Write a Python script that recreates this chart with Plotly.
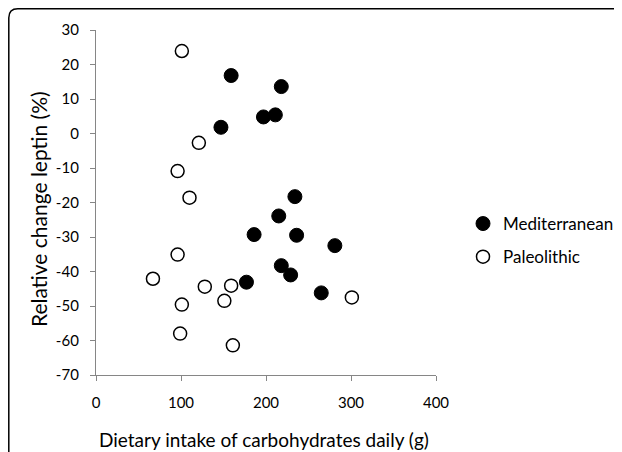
import plotly.graph_objects as go

# Mediterranean diet group (filled markers)
med_carbs = [159, 218, 197, 211, 147, 234, 215, 186, 236, 218, 229, 177, 281, 265]
med_leptin = [16.8, 13.6, 4.8, 5.4, 1.8, -18.3, -23.9, -29.3, -29.5, -38.3, -41.0, -43.1, -32.5, -46.2]

# Paleolithic diet group (open markers)
pal_carbs = [101, 121, 96, 110, 96, 67, 128, 159, 151, 101, 99, 161, 301]
pal_leptin = [23.9, -2.7, -10.9, -18.6, -35.1, -42.1, -44.4, -44.1, -48.5, -49.6, -58.0, -61.4, -47.5]

x_ticks = [0, 100, 200, 300, 400]
y_ticks = [30, 20, 10, 0, -10, -20, -30, -40, -50, -60, -70]

x_title = "Dietary intake of carbohydrates daily (g)"
y_title = "Relative change leptin (%)"

FONT = "Lato"

# page has an 8px body margin; work in page pixels and convert
OFF = 8
W, H = 622 - OFF, 452 - OFF
L, T = 96 - OFF, 30 - OFF
pw, ph = 340, 345
R = W - L - pw
B = H - T - ph

def px(X):
    return (X - OFF - L) / pw

def py(Y):
    return (T + ph - (Y - OFF)) / ph

fig = go.Figure()
fig.add_trace(go.Scatter(
    x=med_carbs, y=med_leptin, mode="markers", name="Mediterranean",
    legendgroup="a",
    marker=dict(size=14, color="black", line=dict(color="black", width=1)),
    cliponaxis=False,
))
fig.add_trace(go.Scatter(
    x=pal_carbs, y=pal_leptin, mode="markers", name="Paleolithic",
    legendgroup="b",
    marker=dict(size=13, color="white", line=dict(color="black", width=1.5)),
    cliponaxis=False,
))

e = OFF + 0.8
frame = (f"M {px(e)},{py(470)} L {px(e)},{py(e + 9)} "
         f"Q {px(e)},{py(e)} {px(e + 9)},{py(e)} L {px(640)},{py(e)}")
fig.add_shape(type="path", path=frame, xref="paper", yref="paper",
              line=dict(color="black", width=1.5))

fig.add_annotation(text=x_title, xref="paper", yref="paper",
                   x=px(264), y=py(439), xanchor="center", yanchor="middle",
                   showarrow=False, font=dict(family=FONT, size=19, color="black"))
fig.add_annotation(text=y_title, xref="paper", yref="paper", textangle=-90,
                   x=px(38), y=py(209), xanchor="center", yanchor="middle",
                   showarrow=False, font=dict(family=FONT, size=21, color="black"))

fig.update_layout(
    width=W, height=H,
    margin=dict(l=L, r=R, t=T, b=B, pad=0),
    paper_bgcolor="white", plot_bgcolor="white",
    font=dict(family=FONT, color="black"),
    showlegend=True,
    legend=dict(xref="container", yref="container",
                x=(483 - OFF - 20) / W, y=1 - (222 - OFF - 16) / H,
                xanchor="left", yanchor="top",
                font=dict(family=FONT, size=17, color="black"),
                tracegroupgap=8, itemwidth=30, bgcolor="rgba(0,0,0,0)"),
    xaxis=dict(
        range=[0, 400], tickvals=x_ticks, ticktext=[str(v) for v in x_ticks],
        showgrid=False, zeroline=False, showline=True, linecolor="#868686", linewidth=1.3,
        ticks="outside", ticklen=5, tickcolor="#868686", tickwidth=1.3,
        ticklabelstandoff=9, automargin=False,
        tickfont=dict(family=FONT, size=15, color="black"),
        fixedrange=True,
    ),
    yaxis=dict(
        range=[-70, 30], tickvals=y_ticks, ticktext=[str(v) for v in y_ticks],
        showgrid=False, zeroline=False, showline=True, linecolor="#868686", linewidth=1.3,
        ticks="outside", ticklen=5, tickcolor="#868686", tickwidth=1.3,
        ticklabelstandoff=8, automargin=False,
        tickfont=dict(family=FONT, size=15, color="black"),
        fixedrange=True,
    ),
)

fig.write_html("out.html")
